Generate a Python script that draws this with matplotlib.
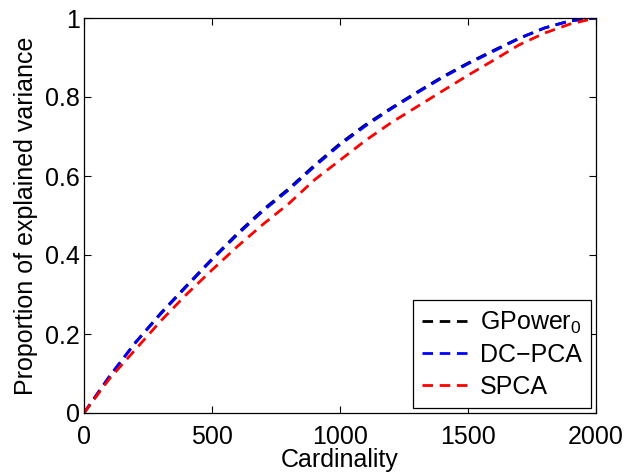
import matplotlib
matplotlib.use("Agg")
import matplotlib.pyplot as plt

plt.rcParams['font.family'] = ['Liberation Sans', 'DejaVu Sans']
plt.rcParams['mathtext.fontset'] = 'custom'
plt.rcParams['mathtext.rm'] = 'Liberation Sans'
plt.rcParams['mathtext.it'] = 'Liberation Sans:italic'
plt.rcParams['mathtext.bf'] = 'Liberation Sans:bold'

cardinality = [0, 100, 200, 300, 400, 500, 600, 700, 800, 900, 1000,
               1100, 1200, 1300, 1400, 1500, 1600, 1700, 1800, 1900, 2000]
gpower0 = [0.0, 0.093, 0.178, 0.253, 0.322, 0.390, 0.455, 0.515, 0.568, 0.627, 0.682,
           0.730, 0.772, 0.812, 0.851, 0.886, 0.918, 0.949, 0.975, 0.993, 1.0]
dcpca = [0.0, 0.093, 0.177, 0.251, 0.320, 0.388, 0.452, 0.512, 0.565, 0.624, 0.679,
         0.727, 0.770, 0.810, 0.849, 0.884, 0.916, 0.948, 0.975, 0.993, 1.0]
spca = [0.0, 0.087, 0.160, 0.233, 0.300, 0.362, 0.422, 0.478, 0.530, 0.590, 0.640,
        0.690, 0.735, 0.775, 0.815, 0.855, 0.893, 0.932, 0.962, 0.985, 1.0]
labels = ['GPower$_0$', 'DC\u2212PCA', 'SPCA']
xticks = [0, 500, 1000, 1500, 2000]
yticks = [0, 0.2, 0.4, 0.6, 0.8, 1.0]
yticklabels = ['0', '0.2', '0.4', '0.6', '0.8', '1']

FS = 18

fig = plt.figure(figsize=(6.26, 4.75), dpi=100)
ax = fig.add_axes([84/626, 1-413/475, (596-84)/626, (413-18)/475])

dash = (3.8, 2.4)
ax.plot(cardinality, gpower0, color='black', lw=2, linestyle=(0, dash), label=labels[0])
ax.plot(cardinality, dcpca, color='blue', lw=2, linestyle=(0, dash), label=labels[1])
ax.plot(cardinality, spca, color='red', lw=2, linestyle=(0, dash), label=labels[2])

ax.set_xlim(0, 2000)
ax.set_ylim(0, 1)
ax.set_xticks(xticks)
ax.set_xticklabels([str(t) for t in xticks])
ax.set_yticks(yticks)
ax.set_yticklabels(yticklabels)
ax.tick_params(direction='in', length=5, width=0.8, top=True, right=True,
               labelsize=FS)
ax.tick_params(axis='x', pad=9)
ax.tick_params(axis='y', pad=3)
for s in ax.spines.values():
    s.set_linewidth(0.9)

ax.set_xlabel('Cardinality', fontsize=FS, labelpad=-1)
ax.set_ylabel('Proportion of explained variance', fontsize=FS, labelpad=5)

leg = ax.legend(loc='lower right', fontsize=FS, frameon=True, fancybox=False,
                edgecolor='black', framealpha=1, handlelength=2.0,
                handletextpad=0.3, labelspacing=0.3, borderpad=0.38,
                borderaxespad=0.2)
leg.get_frame().set_linewidth(0.9)

fig.savefig('out.png', dpi=100)
